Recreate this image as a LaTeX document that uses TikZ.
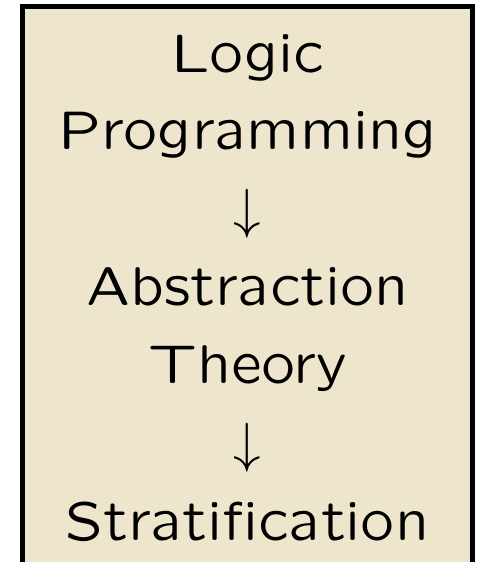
\documentclass[tikz,border=0pt]{standalone}
\definecolor{boxfill}{HTML}{EDE6CC}
\font\slidesf=cmssq8 at 54.6pt
\begin{document}
\begin{tikzpicture}[x=1pt,y=-1pt,
  line/.style={anchor=base,inner sep=0pt,font=\slidesf},
  arr/.style={anchor=base,inner sep=0pt}]
\useasboundingbox (0,0) rectangle (480,562);
\begin{scope}
\clip (0,0) rectangle (480,562);
\draw[line width=5pt,fill=boxfill] (22.5,6) rectangle (472.5,620);
\end{scope}
\node[line] (l1) at (247.5,72) {Logic};
\node[line] (l2) at (247.5,149) {Programming};
\node[arr] (a1) at (247.5,227) {\scalebox{5.5}{$\downarrow$}};
\node[line] (l3) at (247.5,305) {Abstraction};
\node[line] (l4) at (247.5,383) {Theory};
\node[arr] (a2) at (247.5,461) {\scalebox{5.5}{$\downarrow$}};
\node[line] (l5) at (247.5,540) {Stratification};
\end{tikzpicture}
\end{document}
